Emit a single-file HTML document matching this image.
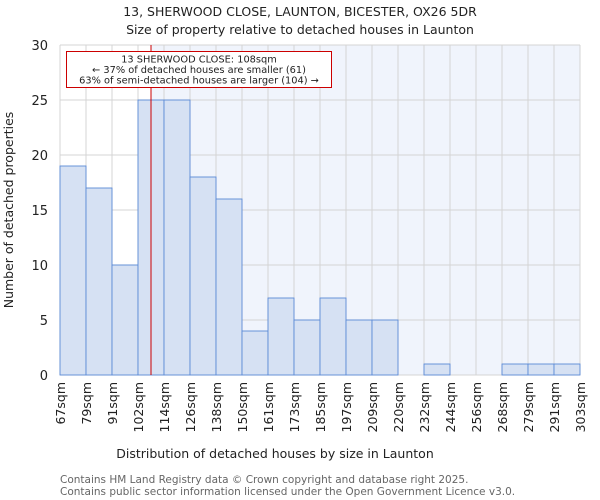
<!DOCTYPE html>
<html><head><meta charset="utf-8"><style>
body{margin:0;background:#fff}
svg{display:block;font-family:"DejaVu Sans","Liberation Sans",sans-serif}
</style></head><body>
<svg id="chart" width="600" height="500">
<text x="300" y="16" text-anchor="middle" font-size="12.5" fill="#222">13, SHERWOOD CLOSE, LAUNTON, BICESTER, OX26 5DR</text>
<text x="300" y="34" text-anchor="middle" font-size="12.5" fill="#222">Size of property relative to detached houses in Launton</text>
<g id="plot"></g>
<text x="275" y="458" text-anchor="middle" font-size="12.5" fill="#222">Distribution of detached houses by size in Launton</text>
<text transform="translate(13,210) rotate(-90)" text-anchor="middle" font-size="12.5" fill="#222">Number of detached properties</text>
<text x="60" y="483" font-size="10.5" fill="#666">Contains HM Land Registry data © Crown copyright and database right 2025.</text>
<text x="60" y="495" font-size="10.5" fill="#666">Contains public sector information licensed under the Open Government Licence v3.0.</text>
</svg>
<script>
const tickLabels=["67sqm","79sqm","91sqm","102sqm","114sqm","126sqm","138sqm","150sqm","161sqm","173sqm","185sqm","197sqm","209sqm","220sqm","232sqm","244sqm","256sqm","268sqm","279sqm","291sqm","303sqm"];
const counts=[19,17,10,25,25,18,16,4,7,5,7,5,5,0,1,0,0,1,1,1];
const yTicks=[0,5,10,15,20,25,30];
const markerIndex=3.5;
const NS="http://www.w3.org/2000/svg";
const g=document.getElementById('plot');
const X0=60,X1=580,Y0=375,Y1=45,YMAX=30;
const bw=(X1-X0)/counts.length;
const xs=i=>X0+i*bw;
const ys=v=>Y0-(v/YMAX)*(Y0-Y1);
function mk(t,a){const e=document.createElementNS(NS,t);for(const k in a)e.setAttribute(k,a[k]);g.appendChild(e);return e;}
const mx=xs(markerIndex);
let e=mk('rect',{x:X0,y:Y1,width:mx-X0,height:Y0-Y1,fill:'#ffffff'});


e=mk('rect',{x:mx,y:Y1,width:X1-mx,height:Y0-Y1,fill:'#f0f4fc'});


for(let i=0;i<=counts.length;i++){
  e=mk('line',{x1:xs(i),x2:xs(i),y1:Y1,y2:Y0,stroke:'#d4d4d4','stroke-width':1});
  
  
}
yTicks.forEach(v=>{
  e=mk('line',{x1:X0,x2:X1,y1:ys(v),y2:ys(v),stroke:'#d4d4d4','stroke-width':1});
  
  
  e=mk('text',{x:X0-12,y:ys(v)+5,'text-anchor':'end','font-size':13,fill:'#222'});
  e.textContent=v;
  
  
});
counts.forEach((c,i)=>{
  if(c<=0)return;
  e=mk('rect',{x:xs(i),y:ys(c),width:bw,height:Y0-ys(c),fill:'#d6e1f3',stroke:'#5b8ad6','stroke-width':0.9});
  
  
});
tickLabels.forEach((t,i)=>{
  e=mk('text',{transform:`translate(${xs(i)+5},382) rotate(-90)`,'text-anchor':'end','font-size':12.5,fill:'#222'});
  e.textContent=t;
  
  
});
e=mk('line',{x1:mx,x2:mx,y1:Y1,y2:Y0,stroke:'#cc0000','stroke-width':1});


e=mk('rect',{x:66.5,y:51.5,width:265,height:36,fill:'#fff',stroke:'#cc0000','stroke-width':1});


const ann=["13 SHERWOOD CLOSE: 108sqm","← 37% of detached houses are smaller (61)","63% of semi-detached houses are larger (104) →"];
ann.forEach((t,i)=>{
  e=mk('text',{x:199,y:62.5+i*10.5,'text-anchor':'middle','font-size':9.8,fill:'#222'});
  e.textContent=t;
  
  
});
</script>
</body></html>
